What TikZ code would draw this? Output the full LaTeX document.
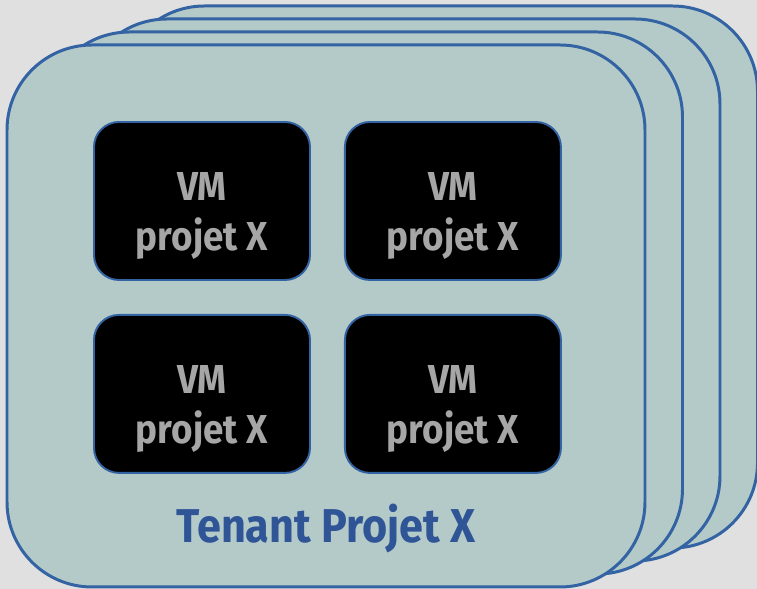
\documentclass[tikz,border=0pt]{standalone}
\usepackage{fontspec}
\setmainfont{Fira Sans}
\newfontfamily\narrowsans[FakeStretch=0.91]{Fira Sans}
\usetikzlibrary{positioning}
\definecolor{bggray}{RGB}{224,224,224}
\definecolor{tenantfill}{RGB}{179,202,200}
\definecolor{tenantline}{RGB}{52,99,164}
\definecolor{namecolor}{RGB}{47,85,151}
\definecolor{vmtext}{RGB}{166,166,166}
\tikzset{
tenant/.style={draw=tenantline, fill=tenantfill, line width=1.7pt, rounded corners=1.7cm, minimum width=12.76cm, minimum height=10.84cm}, % one sheet of the tenant stack
vm/.style={draw=tenantline, fill=black, line width=1.1pt, rounded corners=0.5cm, minimum width=4.32cm, minimum height=3.16cm, text=vmtext, align=center, text height=2.16cm, font=\narrowsans\bfseries\fontsize{23}{28.5}\selectfont}, % a virtual machine
tenantname/.style={text=namecolor, font=\narrowsans\bfseries\fontsize{27}{32}\selectfont}, % the caption at the bottom
node distance=0.66cm, % gap between the VM boxes
}
\begin{document}
\begin{tikzpicture}
    \fill[bggray] (0,0) rectangle (15.14,11.78);
    \useasboundingbox (0,0) rectangle (15.14,11.78);
    % stack of tenants, back to front
    \foreach \k in {3,2,1}
        \node[tenant] (tenant\k) at (6.52+0.75*\k, 5.46+0.26*\k) {};
    \node[tenant] (tenant0) at (6.52,5.46) {};
    % the four VMs
    \node[vm] (vm1) at (4.04,7.76) {VM\\projet X};
    \node[vm, right=of vm1] (vm2) {VM\\projet X};
    \node[vm, below=of vm1] (vm3) {VM\\projet X};
    \node[vm, right=of vm3] (vm4) {VM\\projet X};
    \node[tenantname, anchor=base] (name) at ([yshift=0.92cm]tenant0.south) {Tenant Projet X};
\end{tikzpicture}
\end{document}
